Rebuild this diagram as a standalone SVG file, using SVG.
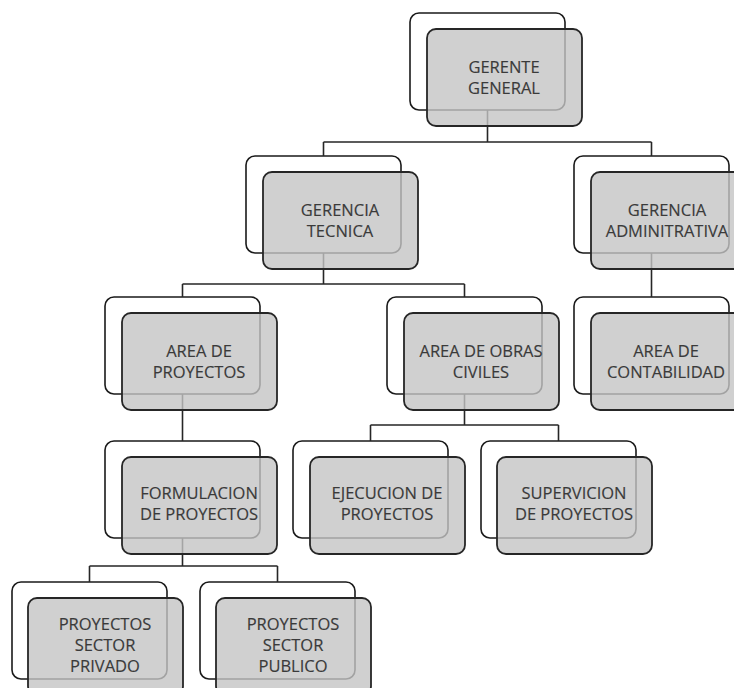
<svg xmlns="http://www.w3.org/2000/svg" width="734" height="688" viewBox="0 0 734 688">
<style>
.back{fill:#ffffff;stroke:#1a1a1a;stroke-width:1.6}
.front{fill:#c4c4c4;fill-opacity:0.8;stroke:#262626;stroke-width:1.8}
.lbl{font-family:"Open Sans","Noto Sans",sans-serif;font-size:16.5px;fill:#3a3a3a;stroke:#3a3a3a;stroke-width:0.15;text-anchor:middle}
.conn{fill:none;stroke:#262626;stroke-width:1.6}
</style>
<rect width="734" height="688" fill="#ffffff"/>
<defs>
<rect id="b" class="back" width="155" height="97" rx="9"/>
<rect id="f" class="front" width="155" height="97" rx="9"/>
</defs>
<g id="backs">
<use href="#b" x="410" y="13"/>
<use href="#b" x="246" y="156"/>
<use href="#b" x="574" y="156"/>
<use href="#b" x="105" y="297"/>
<use href="#b" x="387" y="297"/>
<use href="#b" x="574" y="297"/>
<use href="#b" x="105" y="441"/>
<use href="#b" x="293" y="441"/>
<use href="#b" x="481" y="441"/>
<use href="#b" x="12" y="582"/>
<use href="#b" x="200" y="582"/>
</g>
<g id="connectors">
<path class="conn" d="M487.5 110V142M323.5 142H651.5M323.5 142V156M651.5 142V156"/>
<path class="conn" d="M323.5 253V284M182.5 284H464.5M182.5 284V297M464.5 284V297"/>
<path class="conn" d="M651.5 253V297"/>
<path class="conn" d="M464.5 394V425M370.5 425H558.5M370.5 425V441M558.5 425V441"/>
<path class="conn" d="M182.5 394V441"/>
<path class="conn" d="M182.5 538V566M89.5 566H277.5M89.5 566V582M277.5 566V582"/>
</g>
<g id="n1"><use href="#f" x="427" y="29"/><text class="lbl" x="504" y="73">GERENTE</text><text class="lbl" x="504" y="94">GENERAL</text></g>
<g id="n2"><use href="#f" x="263" y="172"/><text class="lbl" x="340" y="216">GERENCIA</text><text class="lbl" x="340" y="237">TECNICA</text></g>
<g id="n3"><use href="#f" x="591" y="172"/><text class="lbl" x="667" y="216">GERENCIA</text><text class="lbl" x="667" y="237">ADMINITRATIVA</text></g>
<g id="n4"><use href="#f" x="122" y="313"/><text class="lbl" x="199" y="357">AREA DE</text><text class="lbl" x="199" y="378">PROYECTOS</text></g>
<g id="n5"><use href="#f" x="404" y="313"/><text class="lbl" x="481" y="357">AREA DE OBRAS</text><text class="lbl" x="481" y="378">CIVILES</text></g>
<g id="n6"><use href="#f" x="591" y="313"/><text class="lbl" x="666" y="357">AREA DE</text><text class="lbl" x="666" y="378">CONTABILIDAD</text></g>
<g id="n7"><use href="#f" x="122" y="457"/><text class="lbl" x="199" y="499">FORMULACION</text><text class="lbl" x="199" y="520">DE PROYECTOS</text></g>
<g id="n8"><use href="#f" x="310" y="457"/><text class="lbl" x="387" y="499">EJECUCION DE</text><text class="lbl" x="387" y="520">PROYECTOS</text></g>
<g id="n9"><use href="#f" x="497" y="457"/><text class="lbl" x="574" y="499">SUPERVICION</text><text class="lbl" x="574" y="520">DE PROYECTOS</text></g>
<g id="n10"><use href="#f" x="28" y="598"/><text class="lbl" x="105" y="630">PROYECTOS</text><text class="lbl" x="105" y="651">SECTOR</text><text class="lbl" x="105" y="672">PRIVADO</text></g>
<g id="n11"><use href="#f" x="216" y="598"/><text class="lbl" x="293" y="630">PROYECTOS</text><text class="lbl" x="293" y="651">SECTOR</text><text class="lbl" x="293" y="672">PUBLICO</text></g>
</svg>
